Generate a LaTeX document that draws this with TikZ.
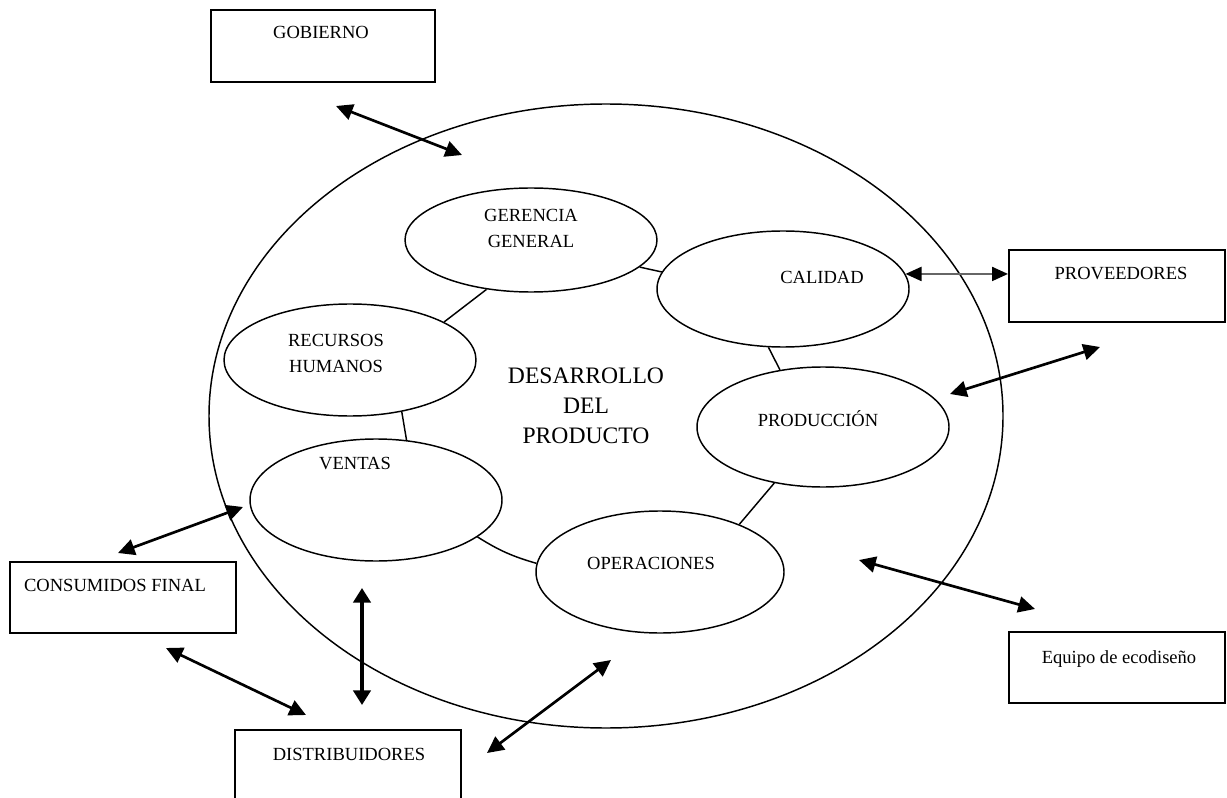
\documentclass[tikz,border=0pt]{standalone}
\usepackage{fontspec}
\setmainfont{Liberation Serif}
\usetikzlibrary{arrows.meta,shapes.geometric,calc}
\begin{document}
\begin{tikzpicture}[x=0.75pt,y=-0.75pt,
  oval/.style={draw,ellipse,line width=1.1pt,inner sep=0pt},
  frame/.style={draw,rectangle,line width=1.5pt,inner sep=0pt},
  lbl/.style={font=\fontsize{13.9}{20}\selectfont,align=center,inner sep=0pt},
  biglbl/.style={font=\fontsize{17.7}{22.5}\selectfont,align=center,inner sep=0pt},
  link/.style={line width=1.1pt},
  flow/.style={line width=2pt,{Triangle[length=12.5pt,width=12pt]}-{Triangle[length=12.5pt,width=12pt]}},
  vflow/.style={line width=2.6pt,{Triangle[length=11pt,width=13pt]}-{Triangle[length=11pt,width=13pt]}},
  gflow/.style={line width=1.5pt,draw=black!60,{Triangle[length=12pt,width=10.5pt,color=black]}-{Triangle[length=12pt,width=10.5pt,color=black]}}
]
\useasboundingbox (0,0) rectangle (1227,798);
% big circle
\node[oval,minimum width=595.5pt,minimum height=468pt] (big) at (606,416) {};
% inner ellipses
\node[oval,minimum width=189pt,minimum height=78pt] (ger) at (531,240) {};
\node[oval,minimum width=189pt,minimum height=87pt] (cal) at (783,289) {};
\node[oval,minimum width=189pt,minimum height=84pt] (rrhh) at (350,360) {};
\node[oval,minimum width=189pt,minimum height=90pt] (prod) at (823,427) {};
\node[oval,minimum width=189pt,minimum height=91.5pt] (ven) at (376,500) {};
\node[oval,minimum width=186pt,minimum height=91.5pt] (ope) at (660,572) {};
% ring links
\draw[link] (ger.-14) -- (cal.172);
\draw[link] (ger.-132.5) -- (rrhh.22);
\draw[link] (rrhh.-45) -- (ven.63.4);
\draw[link] (ven.-20.5) to[bend right=8] (ope.176);
\draw[link] (cal.-104.5) -- (prod.127.5);
\draw[link] (prod.-131.3) -- (ope.31.5);
% labels in ellipses
\node[lbl] (tger) at (531,228.5) {GERENCIA\\GENERAL};
\node[lbl,anchor=base] (tcal) at (822,284) {CALIDAD};
\node[lbl] (trrhh) at (336,353.5) {RECURSOS\\HUMANOS};
\node[lbl,anchor=base] (tprod) at (818,426) {PRODUCCIÓN};
\node[lbl,anchor=base] (tven) at (355,469) {VENTAS};
\node[lbl,anchor=base] (tope) at (651,569) {OPERACIONES};
\node[biglbl] (tdes) at (586,405.5) {DESARROLLO\\DEL\\PRODUCTO};
% outer boxes
\node[frame,minimum width=168pt,minimum height=54pt] (gob) at (323,46) {};
\node[frame,minimum width=162pt,minimum height=54pt] (prov) at (1117,286) {};
\node[frame,minimum width=169.5pt,minimum height=53.25pt] (cons) at (123,597.5) {};
\node[frame,minimum width=162pt,minimum height=53.25pt] (equ) at (1117,667.5) {};
\node[frame,minimum width=169.5pt,minimum height=60pt] (dist) at (348,770) {};
\node[lbl,anchor=base] (tgob) at (321,39) {GOBIERNO};
\node[lbl,anchor=base] (tprov) at (1121,280) {PROVEEDORES};
\node[lbl,anchor=base] (tcons) at (115,591) {CONSUMIDOS FINAL};
\node[lbl,anchor=base] (tequ) at (1119,663) {Equipo de ecodiseño};
\node[lbl,anchor=base] (tdist) at (349,760) {DISTRIBUIDORES};
% free arrow ends
\coordinate (gobA) at (336,106);
\coordinate (gobB) at (462,155);
\coordinate (provA) at (1100,347);
\coordinate (provB) at (950,394);
\coordinate (consA) at (118,553);
\coordinate (consB) at (243,507);
\coordinate (equA) at (859,560);
\coordinate (equB) at (1035,609);
\coordinate (venA) at (362,588);
\coordinate (venB) at (362,705);
\coordinate (cdA) at (166,648);
\coordinate (cdB) at (306,715);
\coordinate (doA) at (487,753);
\coordinate (doB) at (611,660);
% arrows
\draw[flow] (gobA) -- (gobB);
\draw[gflow] (cal.7) -- (cal.7 -| prov.west);
\draw[flow] (provA) -- (provB);
\draw[flow] (consA) -- (consB);
\draw[flow] (equA) -- (equB);
\draw[vflow] (venA) -- (venB);
\draw[flow] (cdA) -- (cdB);
\draw[flow] (doA) -- (doB);
\end{tikzpicture}
\end{document}
